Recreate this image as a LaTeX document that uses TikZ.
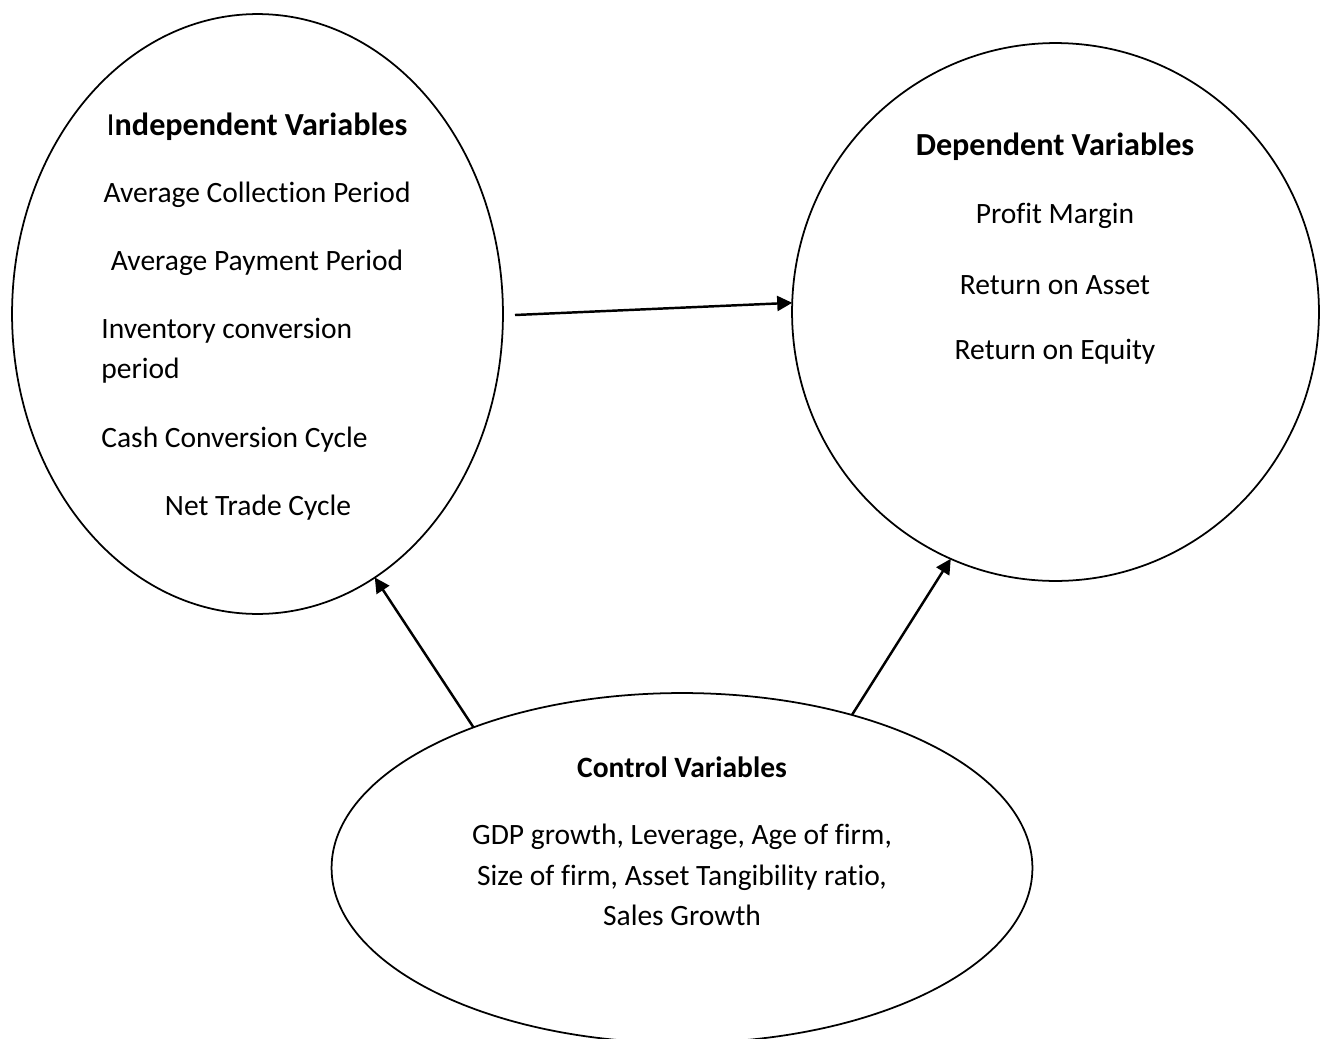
\documentclass[tikz,border=0pt]{standalone}
\usepackage{fontspec}
\setmainfont{Carlito}[Ligatures=NoCommon]
\usetikzlibrary{shapes.geometric,arrows.meta}

\tikzset{
  oval/.style={draw, ellipse, line width=1pt, inner sep=0pt, outer sep=0pt},
  heading/.style={font=\fontsize{18.3}{23}\selectfont\bfseries, inner sep=0pt},
  subheading/.style={font=\fontsize{16.8}{23}\selectfont\bfseries, inner sep=0pt},
  vartext/.style={font=\fontsize{16.8}{23}\selectfont, inner sep=0pt},
  link/.style={-{Triangle[length=0.3cm,width=0.3cm]}, line width=1.4pt}
}

\begin{document}
\begin{tikzpicture}[x=0.02cm, y=-0.02cm]
      \useasboundingbox (0,0) rectangle (1322,1038);
      \clip (0,0) rectangle (1322,1038);
      \node[oval, minimum width=9.82cm, minimum height=12cm] (ind) at (257.5,314) {};
      \node[oval, minimum width=10.54cm, minimum height=10.76cm] (dep) at (1055.5,312) {};
      \node[oval, minimum width=14.02cm, minimum height=7cm] (ctrl) at (682,868) {};
      \node[heading] (ind-title) at (257,127) {{\mdseries I}ndependent Variables};
      \node[vartext] (acp) at (257,195) {Average Collection Period};
      \node[vartext] (app) at (257,263) {Average Payment Period};
      \node[vartext, align=left, anchor=west] (icp) at (101,351) {Inventory conversion\\period};
      \node[vartext, anchor=west] (ccc) at (101,440) {Cash Conversion Cycle};
      \node[vartext] (ntc) at (258,508) {Net Trade Cycle};
      \node[heading] (dep-title) at (1055,147) {Dependent Variables};
      \node[vartext] (pm) at (1055,216) {Profit Margin};
      \node[vartext] (roa) at (1055,285) {Return on Asset};
      \node[vartext] (roe) at (1055,352) {Return on Equity};
      \node[subheading] (ctrl-title) at (682,767) {Control Variables};
      \node[vartext, align=center] (ctrl-list) at (682,875) {GDP growth, Leverage, Age of firm,\\Size of firm, Asset Tangibility ratio,\\Sales Growth};
      \coordinate (start) at (515,315);
      \draw[link] (start) -- (dep.178.5);
      \draw[link] (ctrl.146) -- (ind.294);
      \draw[link] (ctrl.42) -- (dep.247);
    \end{tikzpicture}
\end{document}
